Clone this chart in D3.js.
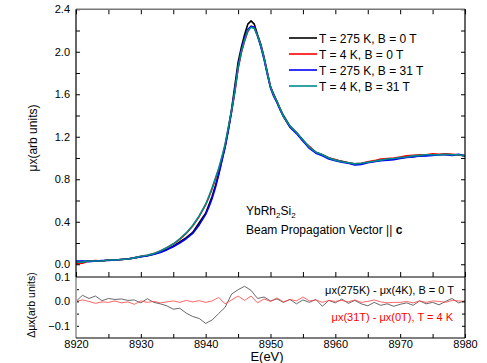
<!DOCTYPE html>
<html>
<head>
<meta charset="utf-8">
<script src="https://cdn.jsdelivr.net/npm/d3@7"></script>
<style>
body { margin: 0; background: #fff; }
text { font-family: "Liberation Sans", Arial, sans-serif; }
</style>
</head>
<body>
<svg id="svg"></svg>
<script>
// energy grid of the spectra (eV)
var energy = [8920, 8921, 8922, 8923, 8924, 8925, 8926, 8927, 8928, 8929,
  8930, 8931, 8932, 8933, 8934, 8935, 8936, 8937, 8938, 8939,
  8940, 8940.5, 8941, 8941.5, 8942, 8942.5, 8943, 8943.5, 8944, 8944.5,
  8945, 8945.5, 8946, 8946.5, 8947, 8947.5, 8948, 8948.5, 8949, 8949.5,
  8950, 8950.5, 8951, 8951.5, 8952, 8953, 8954, 8955, 8956, 8957,
  8958, 8959, 8960, 8961, 8962, 8963, 8964, 8965, 8966, 8967,
  8968, 8969, 8970, 8971, 8972, 8973, 8974, 8975, 8976, 8977,
  8978, 8979, 8980];

// T = 275 K, B = 0 T
var mu_275K_0T = [0.02, 0.025, 0.03, 0.03, 0.03, 0.04, 0.04, 0.045, 0.05, 0.06,
  0.07, 0.08, 0.095, 0.115, 0.14, 0.17, 0.21, 0.25, 0.30, 0.39,
  0.48, 0.56, 0.64, 0.74, 0.85, 0.98, 1.11, 1.27, 1.46, 1.68,
  1.90, 2.04, 2.16, 2.26, 2.29, 2.26, 2.16, 2.07, 1.95, 1.81,
  1.67, 1.60, 1.53, 1.46, 1.40, 1.30, 1.24, 1.17, 1.10, 1.055,
  1.03, 1.00, 0.98, 0.97, 0.955, 0.94, 0.945, 0.96, 0.97, 0.98,
  0.985, 0.99, 1.00, 1.01, 1.015, 1.02, 1.025, 1.03, 1.03, 1.035,
  1.03, 1.03, 1.02];

// T = 4 K, B = 0 T
var mu_4K_0T = [0.005, 0.01, 0.03, 0.035, 0.03, 0.04, 0.04, 0.045, 0.05, 0.06,
  0.075, 0.085, 0.10, 0.125, 0.155, 0.19, 0.235, 0.29, 0.36, 0.45,
  0.56, 0.63, 0.71, 0.80, 0.89, 1.00, 1.12, 1.28, 1.44, 1.62,
  1.84, 1.99, 2.10, 2.19, 2.24, 2.23, 2.15, 2.06, 1.94, 1.80,
  1.67, 1.59, 1.53, 1.46, 1.39, 1.29, 1.24, 1.16, 1.11, 1.05,
  1.03, 1.00, 0.985, 0.965, 0.955, 0.945, 0.95, 0.965, 0.975, 0.99,
  0.995, 1.00, 1.01, 1.02, 1.025, 1.03, 1.03, 1.04, 1.035, 1.04,
  1.035, 1.03, 1.02];

// T = 275 K, B = 31 T
var mu_275K_31T = [0.03, 0.03, 0.025, 0.03, 0.035, 0.035, 0.04, 0.045, 0.05, 0.06,
  0.07, 0.08, 0.095, 0.11, 0.135, 0.165, 0.20, 0.24, 0.29, 0.37,
  0.47, 0.54, 0.62, 0.72, 0.84, 0.97, 1.10, 1.26, 1.44, 1.64,
  1.86, 2.01, 2.13, 2.21, 2.24, 2.23, 2.15, 2.05, 1.93, 1.79,
  1.66, 1.58, 1.52, 1.45, 1.39, 1.29, 1.23, 1.16, 1.09, 1.045,
  1.02, 0.99, 0.975, 0.96, 0.95, 0.935, 0.94, 0.955, 0.965, 0.975,
  0.98, 0.985, 0.995, 1.005, 1.01, 1.02, 1.02, 1.025, 1.03, 1.03,
  1.025, 1.035, 1.02];

// T = 4 K, B = 31 T
var mu_4K_31T = [0.02, 0.02, 0.03, 0.03, 0.03, 0.04, 0.04, 0.045, 0.05, 0.06,
  0.075, 0.085, 0.10, 0.125, 0.155, 0.19, 0.24, 0.295, 0.365, 0.455,
  0.565, 0.64, 0.72, 0.81, 0.90, 1.01, 1.13, 1.29, 1.45, 1.63,
  1.85, 2.00, 2.11, 2.20, 2.23, 2.22, 2.15, 2.06, 1.94, 1.80,
  1.67, 1.59, 1.53, 1.46, 1.39, 1.30, 1.24, 1.17, 1.10, 1.055,
  1.03, 1.00, 0.98, 0.965, 0.955, 0.945, 0.95, 0.96, 0.97, 0.98,
  0.99, 0.995, 1.005, 1.01, 1.02, 1.025, 1.03, 1.03, 1.03, 1.035,
  1.03, 1.03, 1.02];

// difference spectra, 1 eV grid
var energy_diff = d3.range(8920, 8981, 1);
var diff_T = [0.00, 0.025, 0.012, 0.022, 0.003, 0.012, 0.008, 0.010, 0.004, 0.006,
  -0.006, 0.011, -0.004, -0.010, -0.018, -0.032, -0.028, -0.048, -0.062, -0.070,
  -0.090, -0.076, -0.050, -0.024, 0.030, 0.048, 0.062, 0.045, 0.012, 0.018,
  0.002, 0.010, -0.004, 0.008, -0.010, 0.006, -0.004, 0.008, -0.020, 0.004,
  -0.006, 0.010, -0.008, 0.004, -0.010, -0.018, -0.004, -0.016, -0.010, -0.020,
  -0.012, -0.006, -0.016, 0.002, -0.010, -0.004, -0.014, 0.000, 0.012, -0.006,
  0.002];
var diff_B = [0.000, 0.006, 0.000, -0.008, -0.002, -0.004, 0.002, -0.006, -0.002, -0.012,
  0.002, -0.004, 0.000, -0.006, -0.002, 0.002, -0.004, 0.004, -0.002, 0.003,
  -0.004, 0.002, 0.016, -0.010, 0.006, 0.022, 0.004, 0.022, -0.006, 0.010,
  0.000, 0.014, -0.002, 0.008, 0.002, 0.018, 0.002, 0.006, -0.004, 0.004,
  0.000, 0.004, -0.002, 0.006, -0.004, 0.000, 0.006, -0.002, -0.006, -0.004,
  -0.004, 0.000, -0.006, 0.002, -0.004, 0.002, 0.000, -0.004, 0.004, 0.002,
  0.000];

var series = [
  {name: "T = 275 K, B = 0 T", values: mu_275K_0T, color: "#000000"},
  {name: "T = 4 K, B = 0 T", values: mu_4K_0T, color: "#ff0000"},
  {name: "T = 275 K, B = 31 T", values: mu_275K_31T, color: "#0000ff"},
  {name: "T = 4 K, B = 31 T", values: mu_4K_31T, color: "#008b8b"}
];

var xTicks = [8920, 8930, 8940, 8950, 8960, 8970, 8980];
var yTopTicks = [0.0, 0.4, 0.8, 1.2, 1.6, 2.0, 2.4];
var yBotTicks = [-0.1, 0.0, 0.1];

var W = 487, H = 363;
var left = 76, right = 465;
var topY0 = 9.25, topY1 = 277, botY0 = 277, botY1 = 338;

var svg = d3.select("#svg").attr("width", W).attr("height", H);

var xScale = d3.scaleLinear().domain([8920, 8980]).range([left, right]);
var yTop = d3.scaleLinear().domain([-0.12, 2.4]).range([topY1, topY0]);
var yBot = d3.scaleLinear().domain([-0.15, 0.1]).range([botY1, botY0]);

var fmt1 = d3.format(".1f");

// ---- top panel ----
var line = d3.line().x((d, i) => xScale(energy[i])).y(d => yTop(d));
svg.append("g").selectAll("path").data(series).join("path")
  .attr("fill", "none")
  .attr("stroke", d => d.color)
  .attr("stroke-width", 1.6)
  .attr("stroke-linejoin", "round")
  .attr("d", d => line(d.values));

svg.append("g").attr("transform", `translate(${left},0)`)
  .call(d3.axisLeft(yTop).tickValues(d3.range(0, 2.41, 0.2)).tickSize(-4).tickFormat(""))
  .call(g => g.select(".domain").remove());
svg.append("g").attr("transform", `translate(${left},0)`)
  .call(d3.axisLeft(yTop).tickValues(yTopTicks).tickSize(0).tickPadding(6).tickFormat(fmt1))
  .call(g => g.select(".domain").remove());
svg.append("g").attr("transform", `translate(${right},0)`)
  .call(d3.axisRight(yTop).tickValues(d3.range(0, 2.41, 0.2)).tickSize(-4).tickFormat(""))
  .call(g => g.select(".domain").remove());
svg.append("g").attr("transform", `translate(0,${topY0})`)
  .call(d3.axisTop(xScale).tickValues(d3.range(8920, 8981, 5)).tickSize(-5).tickFormat(""))
  .call(g => g.select(".domain").remove());
svg.append("g").attr("transform", `translate(0,${topY1})`)
  .call(d3.axisBottom(xScale).tickValues(d3.range(8920, 8981, 5)).tickSize(-5).tickFormat(""))
  .call(g => g.select(".domain").remove());

// ---- bottom panel ----
var dline = d3.line().x((d, i) => xScale(energy_diff[i])).y(d => yBot(d));
svg.append("path").datum(diff_T)
  .attr("fill", "none").attr("stroke", "#444").attr("stroke-width", 0.8)
  .attr("d", dline);
svg.append("path").datum(diff_B)
  .attr("fill", "none").attr("stroke", "#ff4040").attr("stroke-width", 0.8)
  .attr("d", dline);

svg.append("g").attr("transform", `translate(${left},0)`)
  .call(d3.axisLeft(yBot).tickValues([-0.1, -0.05, 0, 0.05]).tickSize(-3).tickFormat(""))
  .call(g => g.select(".domain").remove());
svg.append("g").attr("transform", `translate(${left},0)`)
  .call(d3.axisLeft(yBot).tickValues(yBotTicks).tickSize(0).tickPadding(6).tickFormat(fmt1))
  .call(g => g.select(".domain").remove());
svg.append("g").attr("transform", `translate(${right},0)`)
  .call(d3.axisRight(yBot).tickValues([-0.1, -0.05, 0, 0.05]).tickSize(-3).tickFormat(""))
  .call(g => g.select(".domain").remove());
svg.append("g").attr("transform", `translate(0,${botY1})`)
  .call(d3.axisBottom(xScale).tickValues(d3.range(8920, 8981, 5)).tickSize(-4).tickFormat(""))
  .call(g => g.select(".domain").remove());
svg.append("g").attr("transform", `translate(0,${botY1})`)
  .call(d3.axisBottom(xScale).tickValues(xTicks).tickSize(0).tickPadding(2).tickFormat(d3.format("d")))
  .call(g => g.select(".domain").remove());

svg.selectAll(".tick text").attr("font-size", 11).attr("fill", "#000")
  .attr("font-family", "Liberation Sans, Arial, sans-serif");
svg.selectAll(".tick line").attr("stroke", "#000");

// frames
svg.append("line").attr("x1", left).attr("x2", right).attr("y1", topY0).attr("y2", topY0)
  .attr("stroke", "#777").attr("stroke-width", 1.5);
svg.append("line").attr("x1", right).attr("x2", right).attr("y1", topY0).attr("y2", botY1)
  .attr("stroke", "#000").attr("stroke-width", 1.2);
svg.append("line").attr("x1", left).attr("x2", left).attr("y1", topY0).attr("y2", topY1)
  .attr("stroke", "#000").attr("stroke-width", 1.2);
svg.append("line").attr("x1", left).attr("x2", left).attr("y1", botY0).attr("y2", botY1)
  .attr("stroke", "#aaa").attr("stroke-width", 2);
svg.append("line").attr("x1", left).attr("x2", right).attr("y1", topY1).attr("y2", topY1)
  .attr("stroke", "#000").attr("stroke-width", 1.2);
svg.append("line").attr("x1", left).attr("x2", right).attr("y1", botY1).attr("y2", botY1)
  .attr("stroke", "#000").attr("stroke-width", 1.2);

// legend
var legend = svg.append("g").selectAll("g").data(series).join("g")
  .attr("transform", (d, i) => `translate(289,${38 + i * 16})`);
legend.append("line").attr("x1", 0).attr("x2", 28).attr("y1", 0).attr("y2", 0)
  .attr("stroke", d => d.color).attr("stroke-width", 1.6);
legend.append("text").attr("x", 30).attr("y", 4.5).attr("font-size", 12)
  .text(d => d.name);

// annotations
var ann = svg.append("text").attr("x", 246).attr("y", 215).attr("font-size", 12);
ann.append("tspan").text("YbRh");
ann.append("tspan").attr("font-size", 8).attr("dy", 3).text("2");
ann.append("tspan").attr("dy", -3).text("Si");
ann.append("tspan").attr("font-size", 8).attr("dy", 3).text("2");
var ann2 = svg.append("text").attr("x", 246).attr("y", 234).attr("font-size", 12);
ann2.append("tspan").text("Beam Propagation Vector || ");
ann2.append("tspan").attr("font-weight", "bold").text("c");

svg.append("text").attr("x", 454).attr("y", 294).attr("text-anchor", "end")
  .attr("font-size", 11).attr("fill", "#000").text("\u03bcx(275K) - \u03bcx(4K), B = 0 T");
svg.append("text").attr("x", 453).attr("y", 321).attr("text-anchor", "end")
  .attr("font-size", 11).attr("fill", "#ff0000").text("\u03bcx(31T) - \u03bcx(0T), T = 4 K");

// axis titles
svg.append("text").attr("x", 267).attr("y", 361).attr("text-anchor", "middle")
  .attr("font-size", 13).text("E(eV)");
svg.append("text").attr("transform", "translate(37,138) rotate(-90)")
  .attr("text-anchor", "middle").attr("font-size", 12).text("\u03bcx(arb units)");
svg.append("text").attr("transform", "translate(35,305) rotate(-90)")
  .attr("text-anchor", "middle").attr("font-size", 10.5).text("\u0394\u03bcx(arb units)");
</script>
</body>
</html>
